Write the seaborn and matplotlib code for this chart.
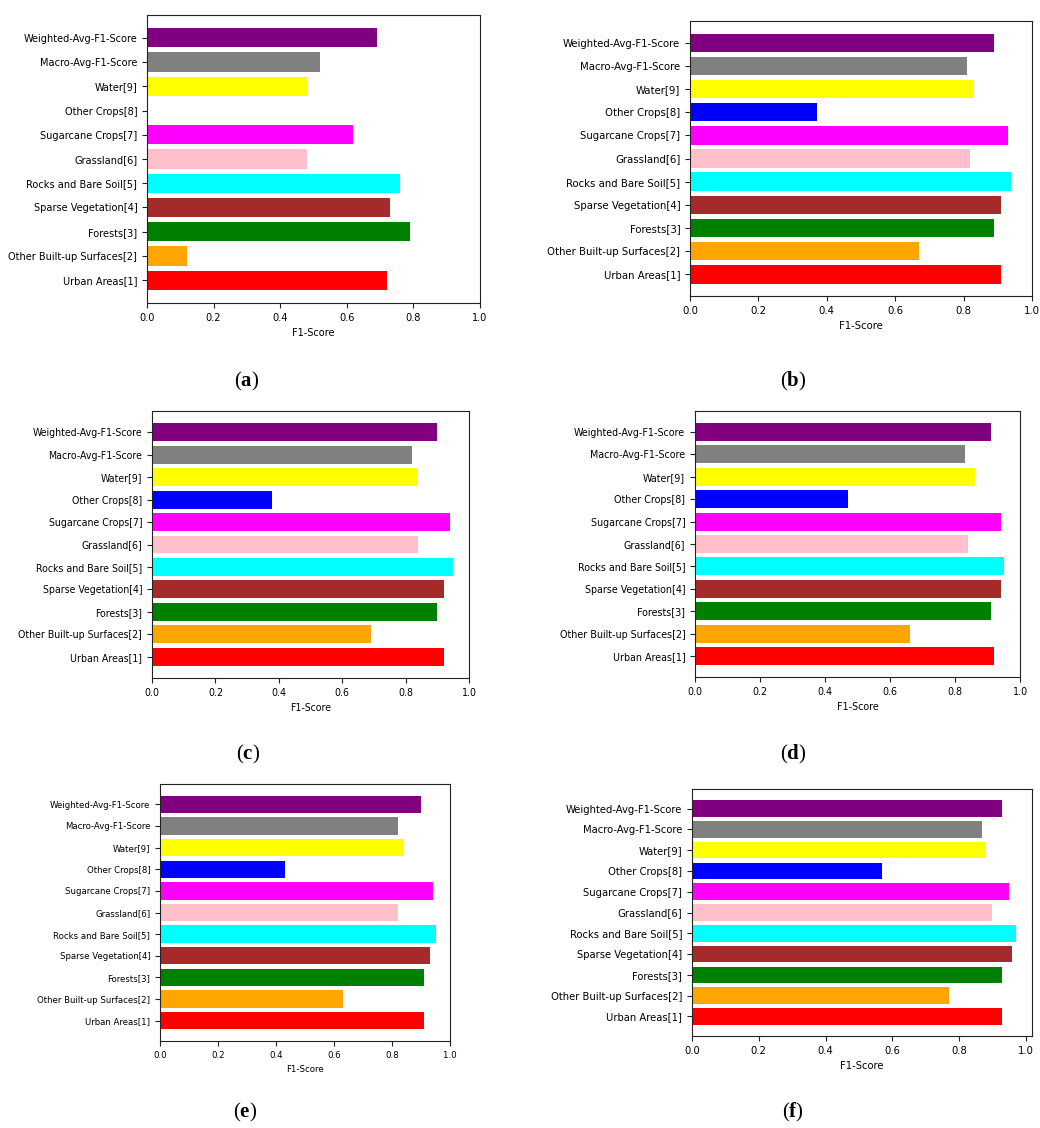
import matplotlib
matplotlib.use('Agg')
import matplotlib.pyplot as plt
import seaborn as sns
import pandas as pd

clases = ['Weighted-Avg-F1-Score', 'Macro-Avg-F1-Score', 'Water[9]', 'Other Crops[8]',
          'Sugarcane Crops[7]', 'Grassland[6]', 'Rocks and Bare Soil[5]',
          'Sparse Vegetation[4]', 'Forests[3]', 'Other Built-up Surfaces[2]', 'Urban Areas[1]']
cores = ['purple', 'gray', 'yellow', 'blue', 'magenta', 'pink', 'cyan',
         'brown', 'green', 'orange', 'red']

f1_a = [0.69, 0.52, 0.48, 0.00, 0.62, 0.48, 0.76, 0.73, 0.79, 0.12, 0.72]
f1_b = [0.89, 0.81, 0.83, 0.37, 0.93, 0.82, 0.94, 0.91, 0.89, 0.67, 0.91]
f1_c = [0.90, 0.82, 0.84, 0.38, 0.94, 0.84, 0.95, 0.92, 0.90, 0.69, 0.92]
f1_d = [0.91, 0.83, 0.86, 0.47, 0.94, 0.84, 0.95, 0.94, 0.91, 0.66, 0.92]
f1_e = [0.90, 0.82, 0.84, 0.43, 0.94, 0.82, 0.95, 0.93, 0.91, 0.63, 0.91]
f1_f = [0.93, 0.87, 0.88, 0.57, 0.95, 0.90, 0.97, 0.96, 0.93, 0.77, 0.93]

paineis = ['a', 'b', 'c', 'd', 'e', 'f']
valores = [f1_a, f1_b, f1_c, f1_d, f1_e, f1_f]

# caixas dos eixos em pixels: esquerda, topo, direita, base
caixas = [(147, 15, 480, 303), (690, 21, 1032, 296),
          (152, 411, 469, 678), (695, 411, 1020, 677),
          (160, 784, 450, 1041), (692, 789, 1032, 1036)]
legendas_xy = [(247, 381), (793, 381), (248, 754), (793, 754), (245, 1112), (793, 1112)]
tam_fonte = [7.8, 8.1, 7.6, 7.7, 6.8, 8.0]
xmax = [1.0, 1.0, 1.0, 1.0, 1.0, 1.0185]

plt.rcParams['font.family'] = ['DejaVu Sans']
plt.rcParams['font.stretch'] = 'condensed'
plt.rcParams['mathtext.fontset'] = 'custom'
plt.rcParams['mathtext.bf'] = 'Liberation Serif:bold'
plt.rcParams['mathtext.rm'] = 'Liberation Serif'

W, H = 1040, 1128
fig = plt.figure(figsize=(W / 100, H / 100), dpi=100)

for p, vals, (x0, y0, x1, y1), (lx, ly), fs, xm in zip(paineis, valores, caixas, legendas_xy, tam_fonte, xmax):
    ax = fig.add_axes([x0 / W, 1 - y1 / H, (x1 - x0) / W, (y1 - y0) / H])
    df = pd.DataFrame({'classe': clases, 'f1': vals})
    sns.barplot(data=df, x='f1', y='classe', hue='classe', palette=cores, saturation=1,
                legend=False, orient='h', width=0.8, linewidth=0, ax=ax)
    pad = 0.4 + 0.05 * (len(clases) - 0.2)
    ax.set_ylim(len(clases) - 1 + pad, -pad)
    ax.set_xlim(0, xm)
    ax.set_xticks([0.0, 0.2, 0.4, 0.6, 0.8, 1.0])
    ax.set_xticklabels(['0.0', '0.2', '0.4', '0.6', '0.8', '1.0'])
    ax.set_xlabel('F1-Score', fontsize=fs)
    ax.set_ylabel('')
    ax.tick_params(labelsize=fs, length=3.5, width=0.8, color='#222222')
    for s in ax.spines.values():
        s.set_color('#222222')
        s.set_linewidth(0.8)
    fig.text(lx / W, 1 - ly / H, '(' + r'$\mathbf{' + p + '}$' + ')', ha='center', va='center',
             fontsize=15, family='Liberation Serif')

fig.savefig('out.png', dpi=100)
